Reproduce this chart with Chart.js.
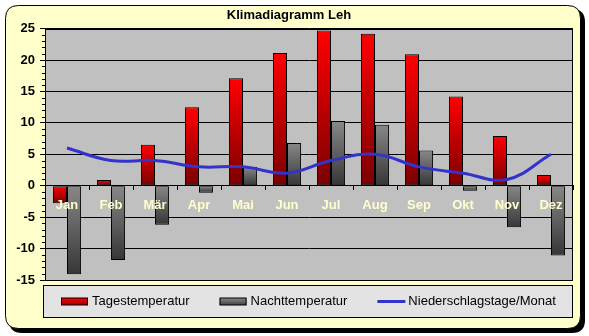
<!DOCTYPE html>
<html>
<head>
<meta charset="utf-8">
<script src="https://cdn.jsdelivr.net/npm/chart.js@4"></script>
<style>
  body { margin: 0; background: #fff; }
  #wrap { width: 589px; height: 336px; }
</style>
</head>
<body>
<div id="wrap"><canvas id="klimaChart" width="589" height="336"></canvas></div>
<script>
// Klimadiagramm Leh
const months = ["Jan", "Feb", "Mär", "Apr", "Mai", "Jun", "Jul", "Aug", "Sep", "Okt", "Nov", "Dez"];
const tagesTemp = [-2.8, 0.9, 6.5, 12.5, 17.1, 21.1, 24.7, 24.2, 20.9, 14.2, 7.9, 1.7];
const nachtTemp = [-14.1, -11.8, -6.2, -1.1, 3.0, 6.8, 10.3, 9.7, 5.6, -0.8, -6.6, -11.1];
const niederschlagstage = [6, 4, 4, 3, 3, 2, 4, 5, 3, 2, 1, 5];
const yMin = -15, yMax = 25, yStep = 5;

const FONT = "'Liberation Sans', Arial, sans-serif";

// vertical gradient for each bar, from its top edge to its bottom edge
function barGradient(topColor, bottomColor) {
    return function (context) {
        const chart = context.chart;
        const y = chart.scales.y;
        if (context.type !== "data" || !y) return bottomColor;
        const v = context.raw;
        const y1 = y.getPixelForValue(Math.max(v, 0));
        const y2 = y.getPixelForValue(Math.min(v, 0));
        if (!isFinite(y1) || !isFinite(y2) || y1 === y2) return topColor;
        const g = chart.ctx.createLinearGradient(0, y1, 0, y2);
        g.addColorStop(0, topColor);
        g.addColorStop(1, bottomColor);
        return g;
    };
}

function roundRect(ctx, x, y, w, h, r) {
    ctx.beginPath();
    ctx.moveTo(x + r, y);
    ctx.lineTo(x + w - r, y);
    ctx.quadraticCurveTo(x + w, y, x + w, y + r);
    ctx.lineTo(x + w, y + h - r);
    ctx.quadraticCurveTo(x + w, y + h, x + w - r, y + h);
    ctx.lineTo(x + r, y + h);
    ctx.quadraticCurveTo(x, y + h, x, y + h - r);
    ctx.lineTo(x, y + r);
    ctx.quadraticCurveTo(x, y, x + r, y);
    ctx.closePath();
}

// yellow frame, grey plot area
const framePlugin = {
    id: "frame",
    beforeDraw(chart) {
        const ctx = chart.ctx;
        const a = chart.chartArea;
        ctx.save();
        ctx.fillStyle = "#fff";
        ctx.fillRect(0, 0, chart.width, chart.height);
        ctx.fillStyle = "#000";
        roundRect(ctx, 9, 9, 576, 324, 13);
        ctx.fill();
        ctx.fillStyle = "#ffffcc";
        roundRect(ctx, 5.5, 5.5, 575, 323, 13);
        ctx.fill();
        ctx.strokeStyle = "#000";
        ctx.lineWidth = 1;
        ctx.stroke();
        ctx.fillStyle = "#c0c0c0";
        ctx.fillRect(a.left, a.top, a.right - a.left, a.bottom - a.top);
        ctx.restore();
    },
    beforeDatasetsDraw(chart) {
        const ctx = chart.ctx;
        const a = chart.chartArea;
        const y = chart.scales.y;
        ctx.save();
        ctx.strokeStyle = "#000";
        ctx.lineWidth = 1;
        ctx.strokeRect(Math.round(a.left) + 0.5, Math.round(a.top) + 0.5,
            Math.round(a.right - a.left) - 1, Math.round(a.bottom - a.top));
        // minor ticks on the value axis
        ctx.beginPath();
        for (let v = yMin; v <= yMax; v++) {
            if (v % yStep === 0) continue;
            const py = Math.round(y.getPixelForValue(v)) + 0.5;
            ctx.moveTo(a.left - 3, py);
            ctx.lineTo(a.left, py);
        }
        ctx.stroke();
        ctx.restore();
    },
    afterDraw(chart) {
        // legend box below the plot
        const ctx = chart.ctx;
        const a = chart.chartArea;
        const top = Math.round(a.bottom) + 5;
        const left = Math.round(a.left) - 2;
        const w = Math.round(a.right) - left;
        const h = 33;
        ctx.save();
        ctx.fillStyle = "#e3e3e3";
        ctx.fillRect(left, top, w, h);
        ctx.strokeStyle = "#000";
        ctx.lineWidth = 1;
        ctx.strokeRect(left + 0.5, top + 0.5, w - 1, h - 1);
        ctx.font = "13px " + FONT;
        ctx.textBaseline = "middle";
        ctx.textAlign = "left";
        const cy = top + 16.5;
        let x = left + 18;
        chart.data.datasets.forEach(ds => {
            if (ds.type === "line") {
                ctx.strokeStyle = ds.borderColor;
                ctx.lineWidth = 3;
                ctx.beginPath();
                ctx.moveTo(x, cy);
                ctx.lineTo(x + 28, cy);
                ctx.stroke();
            } else {
                const g = ctx.createLinearGradient(0, cy - 3.5, 0, cy + 3.5);
                g.addColorStop(0, ds.legendTop);
                g.addColorStop(1, ds.legendBottom);
                ctx.fillStyle = g;
                ctx.fillRect(x, cy - 3.5, 27, 7);
                ctx.strokeStyle = "#000";
                ctx.lineWidth = 1;
                ctx.strokeRect(x + 0.5, cy - 3.5, 26, 7);
            }
            ctx.fillStyle = "#000";
            ctx.fillText(ds.label, x + 31, cy);
            x += 31 + ctx.measureText(ds.label).width + 30;
        });
        ctx.restore();
    }
};

const ctx = document.getElementById("klimaChart").getContext("2d");
new Chart(ctx, {
    type: "bar",
    data: {
        labels: months,
        datasets: [{
            label: "Tagestemperatur",
            data: tagesTemp,
            backgroundColor: barGradient("#ff0000", "#7a0000"),
            legendTop: "#ff0000",
            legendBottom: "#990000",
            borderColor: "#000",
            borderWidth: 1,
            borderSkipped: false,
            categoryPercentage: 0.64,
            barPercentage: 1.0,
            order: 1
        }, {
            label: "Nachttemperatur",
            data: nachtTemp,
            backgroundColor: barGradient("#888888", "#363636"),
            legendTop: "#888888",
            legendBottom: "#444444",
            borderColor: "#000",
            borderWidth: 1,
            borderSkipped: false,
            categoryPercentage: 0.64,
            barPercentage: 1.0,
            order: 2
        }, {
            type: "line",
            label: "Niederschlagstage/Monat",
            data: niederschlagstage,
            borderColor: "#3333cc",
            borderWidth: 3,
            tension: 0.4,
            pointRadius: 0,
            fill: false,
            order: 0
        }]
    },
    options: {
        responsive: false,
        animation: false,
        layout: { padding: { left: 5, right: 16, top: 0, bottom: 56 } },
        plugins: {
            legend: { display: false },
            tooltip: { enabled: false },
            title: {
                display: true,
                text: "Klimadiagramm Leh",
                color: "#000",
                font: { family: FONT, size: 13, weight: "bold" },
                padding: { top: 8, bottom: 5 }
            }
        },
        scales: {
            x: {
                position: { y: 0 },
                offset: true,
                grid: { display: true, drawOnChartArea: false, drawTicks: true, tickLength: 4, color: "#000", offset: true },
                border: { display: true, color: "#000", width: 1 },
                ticks: {
                    z: 1,
                    color: "#ffffcc",
                    font: { family: FONT, size: 13, weight: "bold" },
                    padding: 8,
                    maxRotation: 0,
                    autoSkip: false
                }
            },
            y: {
                min: yMin,
                max: yMax,
                ticks: {
                    stepSize: yStep,
                    color: "#000",
                    font: { family: FONT, size: 13, weight: "bold" },
                    padding: 5
                },
                grid: { color: "#000", lineWidth: 1, drawTicks: true, tickLength: 5 },
                border: { display: true, color: "#000", width: 1 },
                afterFit: scale => { scale.width = 40; }
            }
        }
    },
    plugins: [framePlugin]
});
</script>
</body>
</html>
